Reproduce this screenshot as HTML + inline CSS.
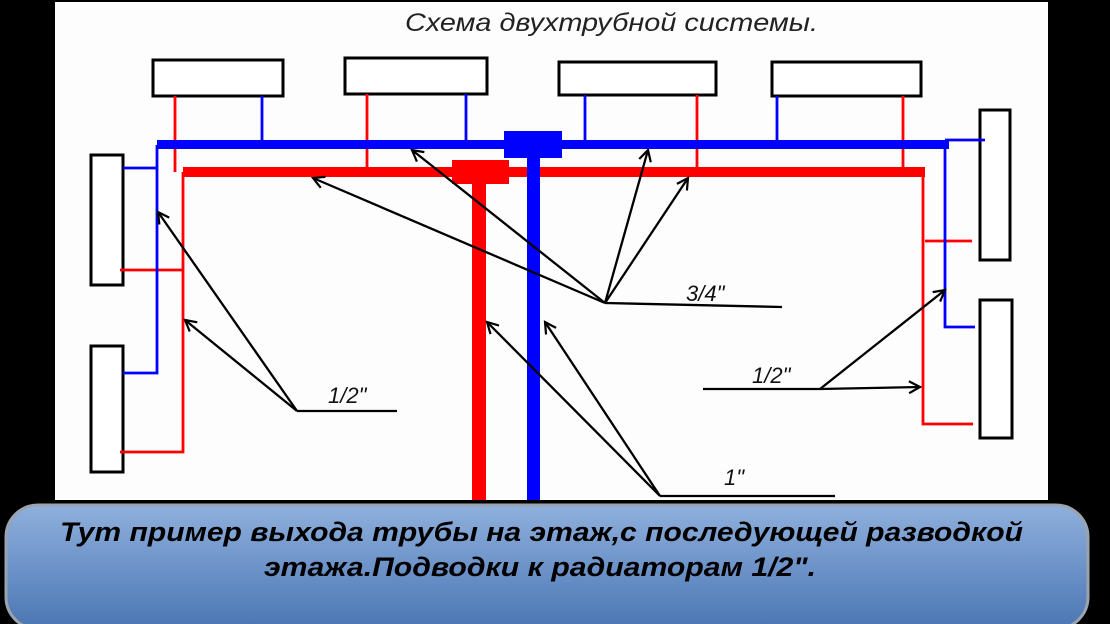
<!DOCTYPE html>
<html><head><meta charset="utf-8"><style>
html,body{margin:0;padding:0;background:#000;width:1110px;height:624px;overflow:hidden}
svg{display:block}
</style></head><body>
<svg width="1110" height="624" viewBox="0 0 1110 624" xmlns="http://www.w3.org/2000/svg">
<defs>
<linearGradient id="g" x1="0" y1="0" x2="0" y2="1">
<stop offset="0" stop-color="#8fb0dc"/><stop offset="0.5" stop-color="#6d93c9"/><stop offset="1" stop-color="#4a76b2"/>
</linearGradient>
<marker id="a" markerWidth="14" markerHeight="14" refX="12" refY="7" orient="auto" markerUnits="userSpaceOnUse">
<path d="M1,1 L12,7 L1,13" fill="none" stroke="#000" stroke-width="2.2"/>
</marker>
</defs>
<rect x="55" y="2" width="993" height="498" fill="#fdfdfd"/>
<text x="405" y="31" textLength="413" lengthAdjust="spacingAndGlyphs" font-family="Liberation Sans, sans-serif" font-style="italic" font-size="25" fill="#222">Схема двухтрубной системы.</text>
<g fill="#fff" stroke="#000" stroke-width="3">
<rect x="153" y="60" width="130" height="36"/>
<rect x="345" y="58" width="142" height="36"/>
<rect x="559" y="62" width="157" height="33"/>
<rect x="772" y="62" width="149" height="34"/>
<rect x="91" y="155" width="32" height="130"/>
<rect x="91" y="346" width="32" height="126"/>
<rect x="980" y="110" width="30" height="150"/>
<rect x="980" y="300" width="32" height="138"/>
</g>
<g stroke="#f00" stroke-width="2.8" fill="none">
<line x1="175" y1="96" x2="175" y2="172"/>
<line x1="367" y1="94" x2="367" y2="172"/>
<line x1="697" y1="95" x2="697" y2="172"/>
<line x1="903" y1="96" x2="903" y2="172"/>
<polyline points="120,270 183,270"/>
<polyline points="183,172 183,452 120,452"/>
<polyline points="923,172 923,424 973,424"/>
<line x1="925" y1="241" x2="972" y2="241"/>
</g>
<g stroke="#00f" stroke-width="2.8" fill="none">
<line x1="262" y1="96" x2="262" y2="145"/>
<line x1="466" y1="94" x2="466" y2="145"/>
<line x1="585" y1="95" x2="585" y2="145"/>
<line x1="777" y1="96" x2="777" y2="145"/>
<polyline points="123,168 157,168"/>
<polyline points="157,145 157,373 123,373"/>
<polyline points="945,145 945,327 975,327"/>
<line x1="945" y1="140" x2="985" y2="140"/>
</g>
<rect x="157" y="140" width="792" height="9" fill="#00f"/>
<rect x="183" y="167" width="742" height="10" fill="#f00"/>
<rect x="452" y="160" width="57" height="24" fill="#f00"/>
<rect x="472" y="172" width="14" height="328" fill="#f00"/>
<rect x="504" y="131" width="58" height="27" fill="#00f"/>
<rect x="527" y="145" width="13" height="355" fill="#00f"/>
<g stroke="#000" stroke-width="2.3" fill="none">
<line x1="605" y1="303" x2="782" y2="307"/>
<line x1="605" y1="303" x2="412" y2="150" marker-end="url(#a)"/>
<line x1="605" y1="303" x2="313" y2="178" marker-end="url(#a)"/>
<line x1="605" y1="303" x2="648" y2="150" marker-end="url(#a)"/>
<line x1="605" y1="303" x2="688" y2="178" marker-end="url(#a)"/>
<line x1="297" y1="411" x2="397" y2="411"/>
<line x1="297" y1="411" x2="158" y2="212" marker-end="url(#a)"/>
<line x1="297" y1="411" x2="185" y2="320" marker-end="url(#a)"/>
<line x1="660" y1="496" x2="835" y2="496"/>
<line x1="660" y1="496" x2="487" y2="322" marker-end="url(#a)"/>
<line x1="660" y1="496" x2="545" y2="322" marker-end="url(#a)"/>
<line x1="703" y1="389" x2="820" y2="389"/>
<line x1="820" y1="389" x2="945" y2="290" marker-end="url(#a)"/>
<line x1="820" y1="389" x2="920" y2="387" marker-end="url(#a)"/>
</g>
<g font-family="Liberation Sans, sans-serif" font-style="italic" font-size="22" fill="#111">
<text x="686" y="301">3/4"</text>
<text x="328" y="403">1/2"</text>
<text x="752" y="383">1/2"</text>
<text x="724" y="485">1"</text>
</g>
<rect x="6" y="505" width="1082" height="124" rx="32" fill="url(#g)" stroke="#9aa3ae" stroke-width="3"/>
<g font-family="Liberation Sans, sans-serif" font-style="italic" font-weight="bold" font-size="27" fill="#000">
<text x="60" y="541" textLength="963" lengthAdjust="spacingAndGlyphs">Тут пример выхода трубы на этаж,с последующей разводкой</text>
<text x="264" y="576" textLength="552" lengthAdjust="spacingAndGlyphs">этажа.Подводки к радиаторам 1/2".</text>
</g>
</svg>
</body></html>
